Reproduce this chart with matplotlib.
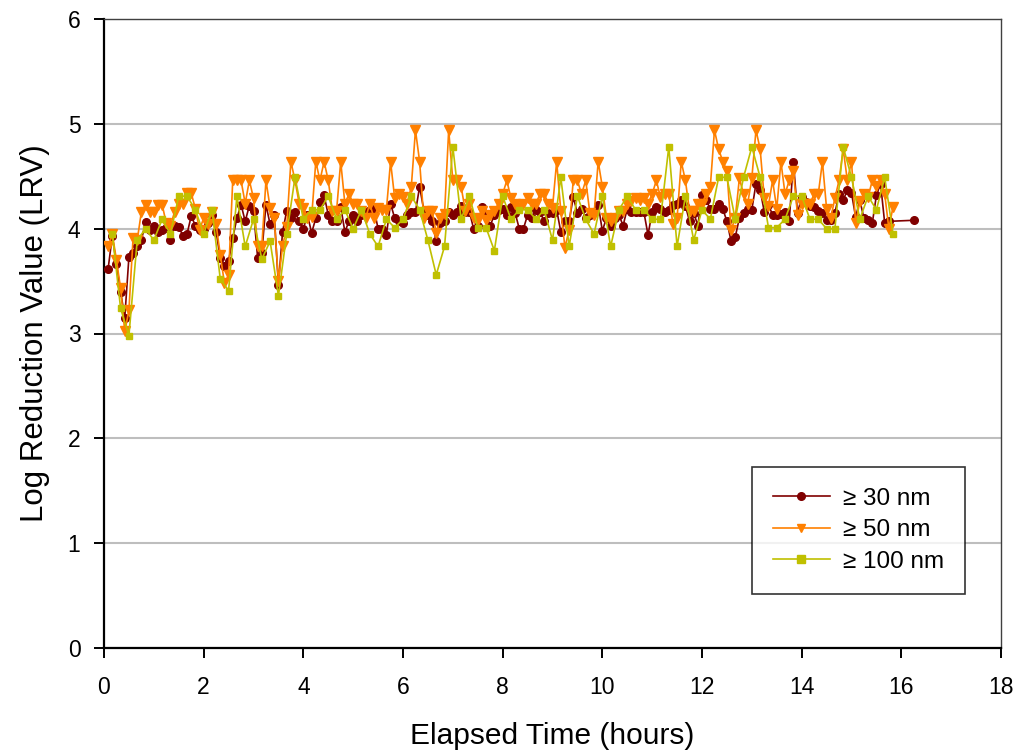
import matplotlib
matplotlib.use('Agg')
import matplotlib.pyplot as plt
import numpy as np

plt.rcParams['font.family'] = ['Liberation Sans', 'DejaVu Sans']

# ---------------- data ----------------
# sampling times in minutes
time_30_min = list(range(5, 950, 5)) + [975]
lrv_30 = [
    3.62, 3.93, 3.66, 3.40, 3.15, 3.73, 3.77, 3.83, 3.89, 4.06,
    3.99, 4.03, 3.97, 3.99, 4.01, 3.89, 4.03, 4.02, 3.93, 3.95,
    4.12, 4.03, 3.99, 4.00, 4.05, 4.13, 3.97, 3.72, 3.64, 3.69,
    3.91, 4.10,
    4.23, 4.07, 4.22, 4.17, 3.72, 3.77, 4.23, 4.04, 4.13, 3.46,
    3.97, 4.17, 4.10, 4.16, 4.07, 4.00, 4.13, 3.96, 4.10, 4.25,
    4.32, 4.13, 4.07, 4.07, 4.21, 3.97, 4.07, 4.13, 4.07, 4.13,
    4.16, 4.18, 4.19, 4.00,
    4.00, 3.94, 4.24, 4.10, 4.07, 4.05, 4.13, 4.16, 4.16, 4.40,
    4.18, 4.13, 4.07, 3.88, 4.05, 4.07, 4.16, 4.13, 4.16, 4.22,
    4.16, 4.16, 4.00, 4.03, 4.21, 4.13, 4.03, 4.13, 4.18, 4.19,
    4.13, 4.21, 4.15, 4.00,
    4.00, 4.13, 4.10, 4.18, 4.16, 4.07, 4.15, 4.15, 4.18, 3.97,
    4.07, 4.07, 4.30, 4.15, 4.19, 4.10, 4.13, 4.16, 4.23, 3.98,
    4.10, 4.03, 4.10, 4.13, 4.03, 4.19, 4.16, 4.16, 4.16, 4.16,
    3.94, 4.16, 4.21,
    4.19, 4.16, 4.18, 4.23, 4.24, 4.27, 4.22, 4.07, 4.15, 4.03,
    4.32, 4.27, 4.19, 4.19, 4.24, 4.19, 4.07, 3.88, 3.92, 4.10,
    4.15, 4.19, 4.18, 4.43, 4.37, 4.16, 4.23, 4.13, 4.13, 4.14,
    4.16, 4.07, 4.64, 4.15,
    4.30, 4.25, 4.22, 4.21, 4.17, 4.15, 4.08, 4.08, 4.15, 4.33,
    4.27, 4.37, 4.34, 4.11, 4.27, 4.10, 4.08, 4.05, 4.32, 4.43,
    4.05, 4.07,
    4.08,
]

time_50_min = list(range(5, 955, 5))
lrv_50 = [
    3.83, 3.95, 3.70, 3.43, 3.02, 3.22, 3.91, 3.89, 4.16, 4.23,
    4.16, 4.16, 4.23, 4.23, 4.05, 4.03, 4.16, 4.24, 4.24, 4.34,
    4.34, 4.19, 3.99, 4.10, 4.04, 4.16, 4.04, 3.75, 3.48, 3.56,
    4.46, 4.46,
    4.46, 4.24, 4.46, 4.29, 3.83, 3.83, 4.46, 4.20, 4.10, 3.50,
    3.83, 4.02, 4.64, 4.46, 4.24, 4.20, 4.10, 4.11, 4.64, 4.46,
    4.64, 4.46, 4.17, 4.17, 4.64, 4.24, 4.33, 4.24, 4.24, 4.17,
    4.10, 4.24, 4.10, 4.20,
    4.18, 4.18, 4.64, 4.29, 4.33, 4.30, 4.24, 4.40, 4.94, 4.64,
    4.10, 4.17, 4.17, 3.96, 4.10, 4.14, 4.94, 4.46, 4.46, 4.40,
    4.17, 4.24, 4.10, 4.08, 4.17, 4.08, 4.13, 4.17, 4.24, 4.33,
    4.46, 4.29, 4.24, 4.20,
    4.24, 4.29, 4.24, 4.24, 4.33, 4.33, 4.24, 4.20, 4.64, 4.17,
    3.82, 3.99, 4.46, 4.46, 4.33, 4.46, 4.15, 4.13, 4.64, 4.40,
    4.10, 4.07, 4.10, 4.17, 4.17, 4.24, 4.26, 4.29, 4.27, 4.29,
    4.24, 4.33, 4.46,
    4.30, 4.33, 4.33, 4.04, 4.10, 4.64, 4.46, 4.17, 4.17, 4.24,
    4.24, 4.33, 4.40, 4.94, 4.76, 4.64, 4.55, 3.99, 4.10, 4.48,
    4.33, 4.24, 4.48, 4.94, 4.76, 4.29, 4.22, 4.46, 4.19, 4.64,
    4.33, 4.46, 4.55, 4.13,
    4.24, 4.24, 4.24, 4.33, 4.33, 4.64, 4.19, 4.10, 4.29, 4.46,
    4.76, 4.46, 4.64, 4.05, 4.26, 4.33, 4.30, 4.46, 4.41, 4.46,
    4.33, 4.00, 4.21,
]

time_100_min = list(range(10, 955, 10))
lrv_100 = [
    3.95, 3.24, 2.98, 3.89, 4.00, 3.89, 4.09, 3.95, 4.31, 4.31,
    4.18, 3.95, 4.18, 3.52, 3.41, 4.31,
    3.83, 4.09, 3.71, 3.88, 3.36, 3.95, 4.49, 4.09, 4.18, 4.18,
    4.31, 4.09, 4.18, 4.00, 4.18, 3.95, 3.83,
    4.09, 4.01, 4.09, 4.31, 4.18, 3.89, 3.56, 3.83, 4.78, 4.09,
    4.31, 4.01, 4.01, 3.79, 4.31, 4.09, 4.18,
    4.18, 4.09, 4.18, 3.89, 4.49, 3.83, 4.31, 4.09, 3.95, 4.31,
    3.83, 4.18, 4.31, 4.18, 4.18, 4.09, 4.09,
    4.78, 3.83, 4.31, 3.89, 4.18, 4.09, 4.49, 4.49, 4.09, 4.49,
    4.78, 4.49, 4.01, 4.01, 4.09, 4.31, 4.31,
    4.09, 4.09, 4.00, 4.00, 4.78, 4.49, 4.09, 4.31, 4.18, 4.49,
    3.95,
]

labels = ['\u2265 30 nm', '\u2265 50 nm', '\u2265 100 nm']
colors = ['#800000', '#FF8000', '#C0C000']

x_ticks = [0, 2, 4, 6, 8, 10, 12, 14, 16, 18]
y_ticks = [0, 1, 2, 3, 4, 5, 6]

# ---------------- figure ----------------
fig = plt.figure(figsize=(10.26, 7.53), dpi=100)
ax = fig.add_axes([104 / 1026, 1 - 648 / 753, 897 / 1026, 629 / 753])

t30 = np.array(time_30_min) / 60.0
t50 = np.array(time_50_min) / 60.0
t100 = np.array(time_100_min) / 60.0

ax.plot(t30, lrv_30, color=colors[0], marker='o', markersize=5.5, lw=1.2,
        label=labels[0], zorder=3)
ax.plot(t50, lrv_50, color=colors[1], marker='v', markersize=6.5, lw=1.2,
        label=labels[1], zorder=4)
ax.plot(t100, lrv_100, color=colors[2], marker='s', markersize=5, lw=1.2,
        label=labels[2], zorder=5)

ax.set_xlim(0, 18)
ax.set_ylim(0, 6)
ax.set_xticks(x_ticks)
ax.set_yticks(y_ticks)

ax.yaxis.grid(True, color='#BEBEBE', lw=1.5, zorder=0)
ax.set_axisbelow(True)

for side in ['left', 'bottom']:
    ax.spines[side].set_color('black')
    ax.spines[side].set_linewidth(1.6)
for side in ['right', 'top']:
    ax.spines[side].set_color('#404040')
    ax.spines[side].set_linewidth(1.0)

ax.tick_params(axis='both', direction='out', length=7, width=1.4,
               labelsize=16.5, colors='black')
ax.tick_params(axis='x', pad=13)
ax.tick_params(axis='y', pad=10)

ax.set_xlabel('Elapsed Time (hours)', fontsize=21.5, labelpad=17)
ax.set_ylabel('Log Reduction Value (LRV)', fontsize=22.5, labelpad=13)

leg = ax.legend(loc='upper left', bbox_to_anchor=(0.7225, 0.288),
                frameon=True, fancybox=False, edgecolor='black',
                fontsize=17.5, handlelength=2.35, handletextpad=0.55,
                labelspacing=0.4, borderpad=0.85, borderaxespad=0,
                markerscale=1.0)
leg.get_frame().set_linewidth(1.2)
for h in leg.legend_handles:
    h.set_markersize(5.5)

fig.savefig('out.png', dpi=100)
